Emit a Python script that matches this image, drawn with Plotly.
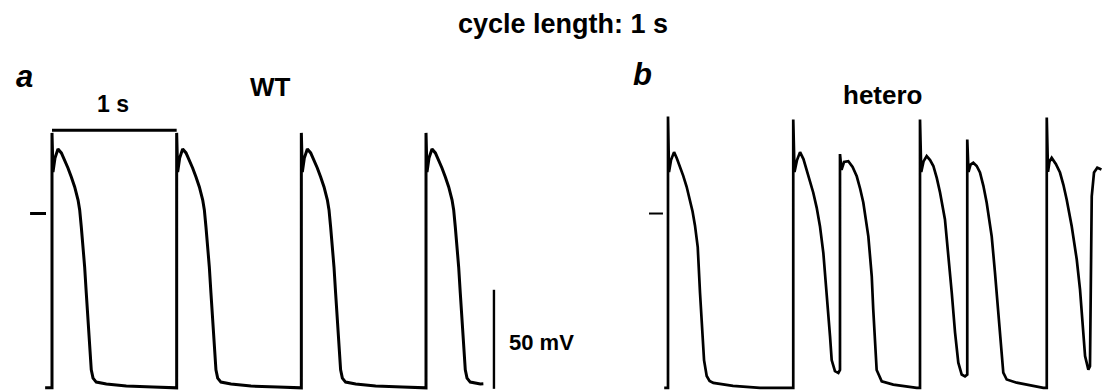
import plotly.graph_objects as go

# ---------------- data (time in s, membrane potential in mV) ----------------
# WT: one action potential, relative to its upstroke
wt_beat_t = [0.0, 0.0, 0.008, 0.024, 0.048, 0.075, 0.102, 0.128, 0.155, 0.182,
             0.209, 0.222, 0.235, 0.249, 0.262, 0.275, 0.289, 0.302, 0.315,
             0.329, 0.355, 0.436, 0.596, 0.810]
wt_beat_v = [-88, 40.7, 21, 28, 32.6, 30.6, 27.0, 23.0, 18.4, 13.4,
             6.8, 1.8, -6.8, -16.9, -27.0, -40.2, -53.8, -68.9, -78.9,
             -83.1, -85.1, -86.1, -87.1, -87.6]
wt_onsets = [0, 1, 2, 3]          # stimulation times (cycle length 1 s)
wt_start_t, wt_start_v = -0.055, -88
wt_end_t, wt_end_v = 3.46, -86

# hetero: full trace (EADs / extra beats)
het_t = [-0.03, 0.0, 0.0, 0.008, 0.024, 0.048, 0.069, 0.095, 0.121, 0.148,
         0.175, 0.195, 0.214, 0.236, 0.254, 0.267, 0.286, 0.307, 0.330,
         0.360, 0.516, 0.730, 0.994,
         0.994, 0.994, 1.004, 1.024, 1.048, 1.075, 1.101, 1.127, 1.153, 1.180,
         1.206, 1.233, 1.260, 1.286, 1.299, 1.325, 1.352, 1.365,
         1.365, 1.377, 1.397, 1.431, 1.465, 1.498, 1.525, 1.550, 1.590, 1.617,
         1.629, 1.643, 1.656, 1.696, 1.788, 1.974, 2.000,
         2.000, 2.010, 2.028, 2.053, 2.080, 2.106, 2.133, 2.159, 2.198, 2.225,
         2.252, 2.278, 2.304, 2.331, 2.357, 2.375,
         2.375, 2.385, 2.401, 2.423, 2.450, 2.476, 2.503, 2.529, 2.569, 2.595,
         2.621, 2.643, 2.661, 2.688, 2.767, 2.979, 3.006,
         3.006, 3.016, 3.028, 3.045, 3.078, 3.111, 3.138, 3.164, 3.204, 3.244,
         3.270, 3.291, 3.310, 3.336, 3.349, 3.363, 3.373, 3.381, 3.407, 3.440]
het_v = [-88, -88, 49, 21, 27, 31, 28, 24, 19, 13.5,
         7, 1, -6, -17, -40, -57, -74, -82, -84.5,
         -85.5, -87, -88, -88,
         -88, 47.5, 21, 27, 31, 27.5, 22, 17, 10.5, 3,
         -6.4, -20, -40, -62, -74, -79.6, -80.5, -79,
         30, 22, 26, 26.4, 23.5, 18.8, 12.5, 5.6, -11.5, -31.7,
         -48.5, -65, -79, -84.7, -86.4, -88, -88,
         47.5, 21, 26.3, 29, 27, 24, 18, 10.6, -3, -19.7,
         -40, -60, -75.3, -81.3, -82.2, -81.3,
         37.4, 21, 24.7, 25.6, 24, 20.7, 14, 5.6, -11.5, -29.8,
         -50, -68.7, -80.3, -83.8, -85.4, -88, -88,
         48.5, 21, 26.3, 28.1, 25, 20.7, 14.5, 7.1, -6.4, -23.2,
         -38.4, -57, -72, -78.8, -77.1, 8.7, 14.6, 20.7, 23.1, 22.2]

# scale bars / reference marks
time_bar_s = [0, 1]
time_bar_mv = 42
volt_bar_t = 3.545
volt_bar_mv = [-88.5, -38.5]
zero_mv = 0

title_text = "cycle length: 1 s"
panel_labels = ["a", "b"]
panel_titles = ["WT", "hetero"]
time_bar_label = "1 s"
volt_bar_label = "50 mV"

# ---------------- build WT trace from template ----------------
wt_t = [wt_start_t]
wt_v = [wt_start_v]
for on in wt_onsets:
    for dt, v in zip(wt_beat_t, wt_beat_v):
        if on + dt <= wt_end_t:
            wt_t.append(on + dt)
            wt_v.append(v)
wt_t.append(wt_end_t)
wt_v.append(wt_end_v)

FONT = "Arial, Liberation Sans, sans-serif"
BLACK = "#000000"

fig = go.Figure()
fig.add_trace(go.Scatter(x=wt_t, y=wt_v, mode="lines", xaxis="x", yaxis="y",
                         line=dict(color=BLACK, width=3), hoverinfo="skip"))
fig.add_trace(go.Scatter(x=het_t, y=het_v, mode="lines", xaxis="x2", yaxis="y",
                         line=dict(color=BLACK, width=2.7), hoverinfo="skip"))
# 1 s bar
fig.add_trace(go.Scatter(x=time_bar_s, y=[time_bar_mv, time_bar_mv], mode="lines",
                         xaxis="x", yaxis="y", line=dict(color=BLACK, width=3),
                         hoverinfo="skip"))
# 50 mV bar
fig.add_trace(go.Scatter(x=[volt_bar_t, volt_bar_t], y=volt_bar_mv, mode="lines",
                         xaxis="x", yaxis="y", line=dict(color=BLACK, width=2.4),
                         hoverinfo="skip"))
# 0 mV marks
fig.add_trace(go.Scatter(x=[-0.176, -0.048], y=[zero_mv, zero_mv], mode="lines",
                         xaxis="x", yaxis="y", line=dict(color=BLACK, width=3),
                         hoverinfo="skip"))
fig.add_trace(go.Scatter(x=[-0.151, -0.040], y=[zero_mv, zero_mv], mode="lines",
                         xaxis="x2", yaxis="y", line=dict(color=BLACK, width=2),
                         hoverinfo="skip"))

ax = dict(visible=False, showgrid=False, zeroline=False, fixedrange=True)
fig.update_layout(
    width=1102, height=391,
    margin=dict(l=0, r=0, t=0, b=0),
    paper_bgcolor="white", plot_bgcolor="white",
    showlegend=False,
    xaxis=dict(domain=[0, 0.5], range=[-0.4171, 4.0026], **ax),
    xaxis2=dict(domain=[0.5, 1], range=[-0.9286, 3.4444], **ax),
    yaxis=dict(domain=[0, 1], range=[-89.6, 107.8], **ax),
)

def ann(text, x, y, size, xref="paper", yref="paper", italic=False, xanchor="center"):
    t = f"<b><i>{text}</i></b>" if italic else f"<b>{text}</b>"
    fig.add_annotation(text=t, x=x, y=y, xref=xref, yref=yref, showarrow=False,
                       xanchor=xanchor, yanchor="middle",
                       font=dict(family=FONT, size=size, color=BLACK))

ann(title_text, 563 / 1102, 1 - 24 / 391, 27)
ann(panel_labels[0], 24 / 1102, 1 - 77 / 391, 31, italic=True)
ann(panel_labels[1], 642 / 1102, 1 - 74 / 391, 31, italic=True)
ann(panel_titles[0], 270 / 1102, 1 - 87 / 391, 26)
ann(panel_titles[1], 882 / 1102, 1 - 95 / 391, 26)
ann(time_bar_label, 0.49, 55.5, 23, xref="x", yref="y")
ann(volt_bar_label, 3.65, -65, 22, xref="x", yref="y", xanchor="left")

fig.write_html("out.html")
